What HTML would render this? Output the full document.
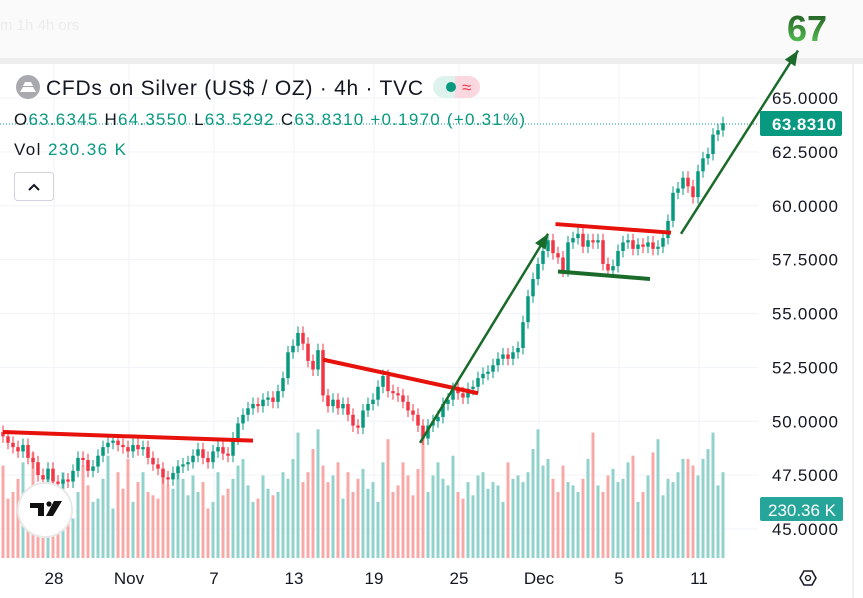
<!DOCTYPE html>
<html><head><meta charset="utf-8"><style>
html,body{margin:0;padding:0;background:#fff;width:863px;height:598px;overflow:hidden;font-family:"Liberation Sans",sans-serif}
#c{position:absolute;left:0;top:0}
</style></head><body>
<svg id="c" width="863" height="598" xmlns="http://www.w3.org/2000/svg">
<rect x="0" y="0" width="863" height="58" fill="#fafafa"/>
<text x="0" y="30" font-size="15" fill="#ececec">m   1h   4h  ors</text>
<rect x="0" y="58" width="863" height="6" fill="#ededed"/>
<line x1="853" y1="64" x2="853" y2="598" stroke="#e0e3eb"/>
<g id="grid"></g>
<g id="vol"></g>
<g id="candles"></g>
<line x1="0" y1="124" x2="758" y2="124" stroke="#089981" stroke-dasharray="1,2"/>
<g id="draw"></g>
<g id="yaxis"></g>
<g id="xaxis"></g>
<rect x="760" y="111" width="82" height="25" rx="2" fill="#089981"/>
<text x="772" y="130" font-size="17" font-weight="bold" fill="#fff" textLength="64">63.8310</text>
<rect x="760" y="497" width="83" height="24" rx="2" fill="#26a69a"/>
<text x="768" y="516" font-size="17" fill="#fff" textLength="68">230.36 K</text>
<g><polygon points="800,578 804,571 812,571 816,578 812,585 804,585" fill="none" stroke="#131722" stroke-width="1.5"/><circle cx="808" cy="578" r="2.5" fill="none" stroke="#131722" stroke-width="1.3"/></g>
<g><circle cx="45" cy="510" r="27" fill="#fff" stroke="#e8e8e8" stroke-width="2"/><path d="M30 503h14v13h-6v-8h-8z" fill="#111"/><circle cx="49" cy="504" r="2.6" fill="#111"/><path d="M54 501h8l-9 15h-7z" fill="#111"/></g>
<g>
<circle cx="28" cy="87" r="12" fill="#a9a9b0"/><path d="M20 92h16l-3-5h-10z M23 86h10l-2-4h-6z" fill="#fff"/>
<text x="46" y="95" font-size="21" fill="#131722" textLength="377">CFDs on Silver (US$ / OZ) · 4h · TVC</text>
<rect x="433" y="76" width="32" height="22" rx="11" fill="#dff3ee"/><rect x="455" y="76" width="14" height="22" fill="#fbd7df"/><rect x="458" y="76" width="22" height="22" rx="11" fill="#fbd7df"/>
<circle cx="451" cy="87" r="5" fill="#089981"/><text x="462" y="93" font-size="17" fill="#f23645">≈</text>
<text x="14" y="125" font-size="17" fill="#131722" textLength="511">O<tspan fill="#089981">63.6345</tspan> H<tspan fill="#089981">64.3550</tspan> L<tspan fill="#089981">63.5292</tspan> C<tspan fill="#089981">63.8310</tspan> <tspan fill="#089981">+0.1970 (+0.31%)</tspan></text>
<text x="14" y="155" font-size="17" fill="#131722" textLength="112">Vol <tspan fill="#089981">230.36 K</tspan></text>
</g>
<g><rect x="14.5" y="172.5" width="39" height="28" rx="3" fill="#fff" stroke="#d1d4dc"/><path d="M29 190l5-5 5 5" fill="none" stroke="#131722" stroke-width="2"/></g>
<defs><linearGradient id="g67" x1="0" y1="0" x2="0" y2="1"><stop offset="0" stop-color="#1a4d1a"/><stop offset="1" stop-color="#5fd35f"/></linearGradient></defs>
<text x="787" y="41" font-size="36" font-weight="bold" fill="url(#g67)">67</text>
</svg>
<script>
const closes=[49.3,49.0,48.8,48.6,48.9,48.3,48.1,47.5,47.3,47.8,47.2,47.1,47.3,47.2,47.7,48.3,48.2,47.7,47.9,48.4,48.8,49.0,49.1,48.9,48.8,48.6,48.9,48.7,48.8,48.3,48.0,47.8,47.4,47.3,47.6,47.9,48.0,48.1,48.4,48.7,48.3,48.1,48.6,48.8,48.5,48.4,49.2,49.9,50.3,50.6,50.8,50.7,51.0,51.1,50.9,51.4,52.0,53.2,53.5,54.1,53.6,52.8,52.4,53.3,51.2,50.7,51.0,50.6,50.8,50.3,49.8,49.7,50.5,50.8,51.0,51.6,52.1,51.4,51.3,51.2,50.9,50.5,50.3,49.8,49.2,49.8,50.0,50.2,50.8,51.0,51.5,51.3,51.1,51.5,51.6,52.0,52.2,52.3,52.6,52.9,53.1,52.9,53.2,53.4,54.6,55.8,56.6,57.3,57.9,58.4,57.8,57.6,57.0,58.3,58.5,58.7,58.1,58.4,58.3,58.4,57.3,57.0,57.2,57.9,58.3,58.4,58.0,58.2,58.1,58.3,58.0,58.1,58.5,59.3,60.6,60.8,61.3,60.9,60.4,61.6,62.2,62.4,63.3,63.5,63.83];
const volumes=[280,180,200,240,290,160,320,200,220,250,230,190,260,150,120,200,280,220,170,180,240,310,150,260,210,300,170,230,260,200,190,180,260,220,210,280,240,190,250,200,230,150,170,260,190,210,240,280,300,220,170,180,250,210,190,200,260,240,300,380,230,260,330,390,280,230,250,290,180,260,200,240,270,210,230,170,290,360,200,220,290,250,190,270,390,200,250,290,240,220,310,200,180,230,190,250,260,210,230,220,170,290,240,250,230,260,330,390,280,300,240,200,280,230,220,200,240,300,380,220,200,250,270,230,240,290,310,170,200,250,320,360,190,240,230,260,300,300,280,250,300,330,380,220,260];
const yTicks=[65,62.5,60,57.5,55,52.5,50,47.5,45];
const xTickLabels=["28","Nov","7","13","19","25","Dec","5","11"];
const xTickBars=[10,25,42,58,74,91,107,123,139];
const NS="http://www.w3.org/2000/svg";
const py=p=>98+(65-p)*21.55;
const bx=i=>3+i*5;
const vy=v=>558-v*0.33;
function mk(t,a,parent){const e=document.createElementNS(NS,t);for(const k in a)e.setAttribute(k,a[k]);document.getElementById(parent).appendChild(e);return e;}
yTicks.forEach(p=>{
 const l=mk('line',{x1:0,x2:758,y1:py(p),y2:py(p),stroke:'#f0f3fa'},'grid');
 
 
 const t=mk('text',{x:772,y:py(p)+6,'font-size':17,fill:'#131722',textLength:66},'yaxis');
 
 
 t.textContent=p.toFixed(4);
});
xTickLabels.forEach((s,k)=>{
 const x=bx(xTickBars[k])+1;
 const l=mk('line',{x1:x,x2:x,y1:64,y2:560,stroke:'#f0f3fa'},'grid');
 
 
 const t=mk('text',{x:x,y:584,'font-size':17,fill:'#131722','text-anchor':'middle'},'xaxis');
 
 
 t.textContent=s;
});
let prev=49.5;
closes.forEach((c,i)=>{
 const o=prev;prev=c;
 const up=c>=o;
 const col=up?'#089981':'#f23645';
 const x=bx(i);
 const v=mk('rect',{x:x-1.5,y:vy(volumes[i]),width:3,height:558-vy(volumes[i]),fill:up?'#92d2cc':'#f7a9a7'},'vol');
 
 
 const hi=Math.max(o,c)+0.3,lo=Math.min(o,c)-0.3;
 const w=mk('line',{x1:x,x2:x,y1:py(hi),y2:py(lo),stroke:col,'stroke-width':1},'candles');
 
 
 const b=mk('rect',{x:x-1.75,y:py(Math.max(o,c)),width:3.5,height:Math.max(1,Math.abs(py(o)-py(c))),fill:col},'candles');
 
 
});
const drawings=[
 {a:[0,49.5],b:[50,49.1],c:'#e8120c',w:4,n:'resistance-line-1'},
 {a:[64,52.86],b:[95,51.3],c:'#e8120c',w:4,n:'resistance-line-2'},
 {a:[110.5,59.15],b:[133.6,58.75],c:'#e8120c',w:4,n:'resistance-line-3'},
 {a:[111,56.95],b:[129.4,56.6],c:'#1a6b2a',w:4,n:'support-line'},
 {a:[83.4,49.0],b:[109,58.7],c:'#1a6b2a',w:2.5,n:'trend-arrow-1',arr:1},
 {a:[135.6,58.7],b:[159,67.2],c:'#1a6b2a',w:2.5,n:'trend-arrow-2',arr:1}
];
drawings.forEach(d=>{
 const x1=bx(d.a[0]),y1=py(d.a[1]),x2=bx(d.b[0]),y2=py(d.b[1]);
 const l=mk('line',{x1,y1,x2,y2,stroke:d.c,'stroke-width':d.w,'stroke-linecap':'butt'},'draw');
 
 
 if(d.arr){
  const ang=Math.atan2(y2-y1,x2-x1),L=16,s=0.4;
  const p1=[x2-L*Math.cos(ang-s),y2-L*Math.sin(ang-s)],p2=[x2-L*Math.cos(ang+s),y2-L*Math.sin(ang+s)];
  const h=mk('polygon',{points:`${x2},${y2} ${p1} ${p2}`,fill:d.c},'draw');
  
  
 }
});
</script>
</body></html>
